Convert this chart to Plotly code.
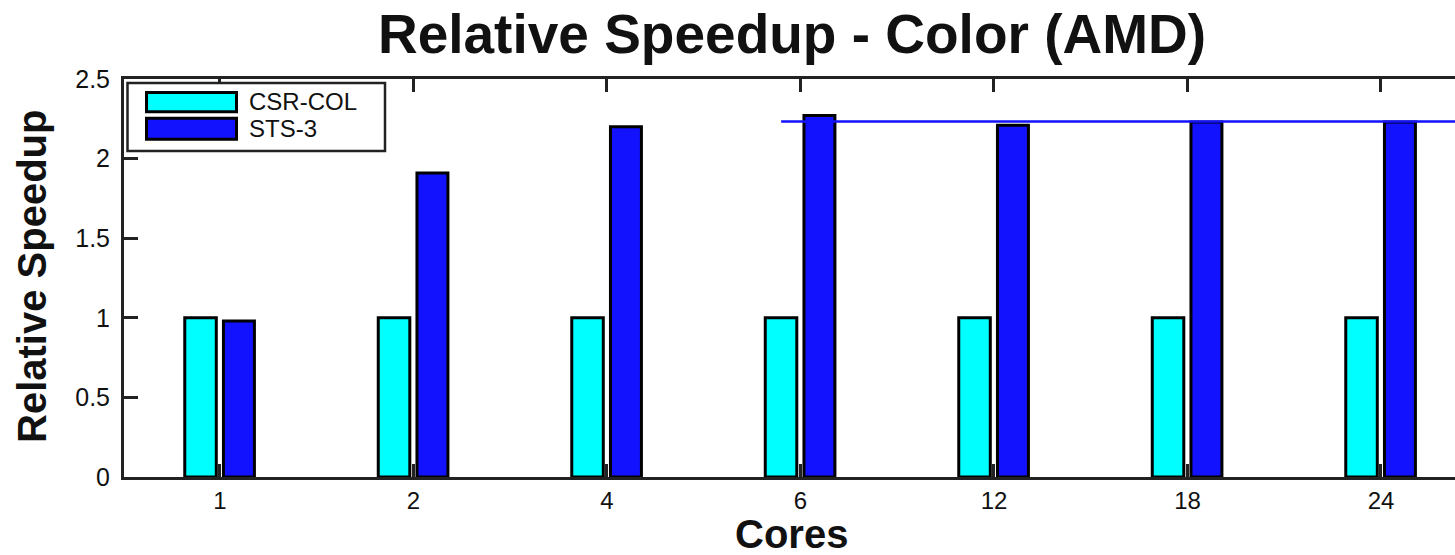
import plotly.graph_objects as go

# ---- data ----
cores = ["1", "2", "4", "6", "12", "18", "24"]
series_names = ["CSR-COL", "STS-3"]
csr_col = [1.0, 1.0, 1.0, 1.0, 1.0, 1.0, 1.0]
sts3 = [0.98, 1.91, 2.20, 2.27, 2.21, 2.23, 2.23]
ref_line_x = [2.9, 6.5]
ref_line_y = [2.233, 2.233]
y_ticks = [0, 0.5, 1, 1.5, 2, 2.5]
y_tick_text = ["0", "0.5", "1", "1.5", "2", "2.5"]

# ---- styling ----
W, H = 1455, 555
M_L, M_R, M_T, M_B = 124, 0, 79, 78
CYAN = "#00ffff"
BLUE = "#1212ff"
AXIS = "#222222"
FONT = "Liberation Sans, Arial, Helvetica, sans-serif"
colors = [CYAN, BLUE]

x_pos = list(range(len(cores)))
plot_w = W - M_L - M_R
plot_h = H - M_T - M_B


def px_x(x):
    return (x - M_L) / plot_w


def px_y(y):
    return (H - M_B - y) / plot_h


fig = go.Figure()
fig.add_trace(go.Bar(
    x=x_pos, y=csr_col, name=series_names[0], width=0.163, offset=-0.182,
    marker=dict(color=CYAN, line=dict(color="black", width=3)),
    showlegend=False,
))
fig.add_trace(go.Bar(
    x=x_pos, y=sts3, name=series_names[1], width=0.16, offset=0.018,
    marker=dict(color=BLUE, line=dict(color="black", width=3)),
    showlegend=False,
))
fig.add_trace(go.Scatter(
    x=ref_line_x, y=ref_line_y, mode="lines",
    line=dict(color=BLUE, width=2.6), showlegend=False, hoverinfo="skip",
))

x_range = [-0.496, -0.496 + plot_w / 193.5]

fig.update_layout(
    width=W, height=H,
    margin=dict(l=M_L, r=M_R, t=M_T, b=M_B, pad=0),
    paper_bgcolor="white", plot_bgcolor="white",
    barmode="overlay",
    font=dict(family=FONT, color="#111111"),
    title=dict(
        text="Relative Speedup - Color (AMD)",
        font=dict(family=FONT, size=55, weight="bold", color="#111111"),
        x=792 / W, xref="container", xanchor="center",
        y=1 - 34 / H, yref="container", yanchor="middle",
    ),
    xaxis=dict(
        range=x_range, tickmode="array", tickvals=x_pos, ticktext=cores,
        showline=True, linecolor=AXIS, linewidth=3, mirror="ticks",
        ticks="inside", ticklen=13, tickwidth=3, tickcolor=AXIS,
        showgrid=False, zeroline=False, ticklabelstandoff=0,
        tickfont=dict(family=FONT, size=24, color="#111111"),
    ),
    yaxis=dict(
        range=[0, 2.5], tickmode="array", tickvals=y_ticks, ticktext=y_tick_text,
        showline=True, linecolor=AXIS, linewidth=3, mirror=False,
        ticks="inside", ticklen=14, tickwidth=3, tickcolor=AXIS,
        showgrid=False, zeroline=False, ticklabelstandoff=6,
        tickfont=dict(family=FONT, size=25, color="#111111"),
    ),
    # right-hand tick marks without an axis line
    yaxis2=dict(
        overlaying="y", side="right", range=[0, 2.5],
        tickmode="array", tickvals=y_ticks, showticklabels=False,
        showline=False, ticks="inside", ticklen=12, tickwidth=3, tickcolor=AXIS,
        showgrid=False, zeroline=False,
    ),
)

# axis titles
fig.add_annotation(
    text="Cores", xref="paper", yref="paper",
    x=px_x(792), y=px_y(533.5), xanchor="center", yanchor="middle",
    showarrow=False, font=dict(family=FONT, size=40, weight="bold", color="#111111"),
)
fig.add_annotation(
    text="Relative Speedup", xref="paper", yref="paper", textangle=-90,
    x=px_x(32), y=px_y(277), xanchor="center", yanchor="middle",
    showarrow=False, font=dict(family=FONT, size=40, weight="bold", color="#111111"),
)

# legend box with swatches
fig.add_shape(
    type="rect", xref="paper", yref="paper",
    x0=px_x(127.5), x1=px_x(385), y0=px_y(151), y1=px_y(83),
    line=dict(color=AXIS, width=2.5), fillcolor="white", layer="above",
)
swatch_rows = [(92.5, 111.8, 101), (118.2, 139.2, 128.5)]
for name, color, (top, bot, mid) in zip(series_names, colors, swatch_rows):
    fig.add_shape(
        type="rect", xref="paper", yref="paper",
        x0=px_x(146.5), x1=px_x(236.5), y0=px_y(bot), y1=px_y(top),
        line=dict(color="black", width=3), fillcolor=color, layer="above",
    )
    fig.add_annotation(
        text=name, xref="paper", yref="paper",
        x=px_x(247), y=px_y(mid), xanchor="left", yanchor="middle",
        showarrow=False, font=dict(family=FONT, size=24, color="#111111"),
    )

fig.write_html("out.html")
